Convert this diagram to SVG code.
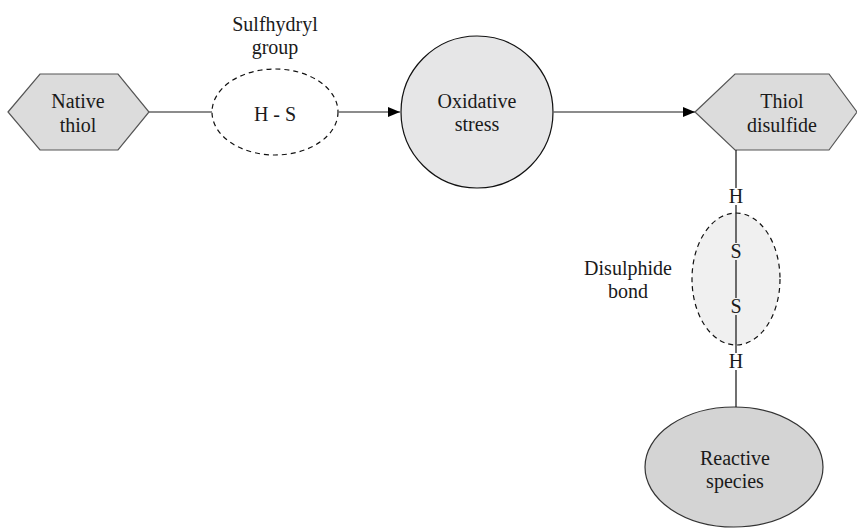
<svg xmlns="http://www.w3.org/2000/svg" width="857" height="528" viewBox="0 0 857 528">
<style>
text{font-family:"Liberation Serif","Times New Roman","DejaVu Serif",serif;font-size:20px;fill:#1a1a1a;text-anchor:middle}
.hex{fill:#dcdcdc;stroke:#555;stroke-width:1.2}
.edge{stroke:#666;stroke-width:1.6;fill:none}
.vedge{stroke:#111;stroke-width:1.2;fill:none}
.dash{stroke:#111;stroke-width:1.2;stroke-dasharray:5,4}
</style>
<defs>
<marker id="arr" markerWidth="12" markerHeight="10" refX="12" refY="5" orient="auto" markerUnits="userSpaceOnUse">
<path d="M0,0 L12,5 L0,10 Z" fill="#000"/>
</marker>
</defs>
<g id="native-thiol">
<polygon class="hex" points="8,112 40,74 118,74 149,112 118,150 40,150"/>
<text x="78" y="108">Native</text>
<text x="78" y="132">thiol</text>
</g>
<g id="sulfhydryl-group">
<ellipse class="dash" cx="275" cy="112" rx="63" ry="43" fill="#fff"/>
<text x="275" y="121">H - S</text>
<text x="275" y="31">Sulfhydryl</text>
<text x="275" y="54">group</text>
</g>
<g id="oxidative-stress">
<circle cx="477" cy="112" r="76" fill="#e6e6e7" stroke="#111" stroke-width="1.2"/>
<text x="477" y="108">Oxidative</text>
<text x="477" y="131">stress</text>
</g>
<g id="thiol-disulfide">
<polygon class="hex" points="695,112 735,74 829,74 857,112 829,150 735,150"/>
<text x="782" y="108">Thiol</text>
<text x="782" y="132">disulfide</text>
</g>
<g id="disulphide-bond">
<ellipse class="dash" cx="736" cy="279" rx="44" ry="66" fill="#f0f0f0"/>
<text x="736" y="203">H</text>
<text x="736" y="258">S</text>
<text x="736" y="313">S</text>
<text x="736" y="368">H</text>
<text x="628" y="275">Disulphide</text>
<text x="628" y="298">bond</text>
</g>
<g id="reactive-species">
<ellipse cx="734" cy="467" rx="89" ry="60" fill="#d4d4d4" stroke="#333" stroke-width="1.2"/>
<text x="735" y="465">Reactive</text>
<text x="735" y="488">species</text>
</g>
<g id="connectors">
<line class="edge" x1="149" y1="112" x2="212" y2="112"/>
<line class="edge" x1="338" y1="112" x2="400" y2="112" marker-end="url(#arr)"/>
<line class="edge" x1="553" y1="112" x2="695" y2="112" marker-end="url(#arr)"/>
<line class="vedge" x1="736" y1="150" x2="736" y2="188"/>
<line class="vedge" x1="736" y1="205" x2="736" y2="243"/>
<line class="vedge" x1="736" y1="260" x2="736" y2="298"/>
<line class="vedge" x1="736" y1="315" x2="736" y2="353"/>
<line class="vedge" x1="736" y1="370" x2="736" y2="407"/>
</g>
</svg>
